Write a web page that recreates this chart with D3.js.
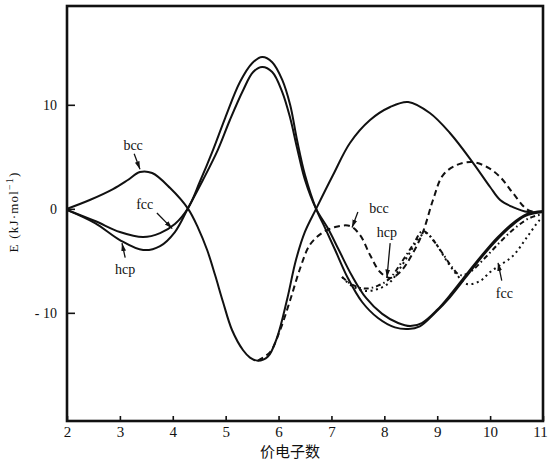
<!DOCTYPE html>
<html>
<head>
<meta charset="utf-8">
<style>
  body { margin: 0; background: #fff; }
  svg text { font-family: "Liberation Serif", "DejaVu Serif", serif; fill: #111; }
  .curve { fill: none; stroke: #111; stroke-width: 2; stroke-linejoin: round; }
  .axis path { display: none; }
  .axis line { stroke: #111; stroke-width: 1.6; }
</style>
</head>
<body>
<svg id="chart" width="548" height="463"></svg>
<script src="https://d3js.org/d3.v7.min.js"></script>
<script>
// tick values
var xTicks = [2, 3, 4, 5, 6, 7, 8, 9, 10, 11];
var yTicks = [10, 0, -10];
var yTickLabels = ['10', '0', '- 10'];

// solid curves  [valence electrons, E]
var bccSolid = [[2,0],[2.43,0.85],[2.87,1.9],[3.15,2.77],[3.38,3.54],[3.61,3.44],[3.95,2.0],[4.29,0],
  [4.48,-1.85],[4.65,-3.96],[4.8,-6.37],[4.95,-8.96],[5.12,-11.65],[5.33,-13.6],[5.46,-14.3],[5.61,-14.6],
  [5.8,-14.2],[5.97,-12.4],[6.16,-8.75],[6.33,-4.9],[6.5,-2.2],[6.71,0],[7.03,3.25],[7.35,6.33],
  [7.73,8.54],[8.11,9.79],[8.45,10.27],[8.86,9.21],[9.24,7.29],[9.68,4.4],[10.0,2.1],[10.19,0.85],
  [10.43,0.17],[10.72,-0.31],[11,-0.31]];
var fccSolid = [[2,-0.1],[2.53,-1.17],[3.0,-2.23],[3.44,-2.71],[3.76,-2.33],[4.04,-1.46],[4.29,0.08],
  [4.51,2.58],[4.76,5.65],[4.99,8.73],[5.27,12.19],[5.5,14.0],[5.69,14.6],[5.88,14.1],[6.07,12.4],
  [6.22,9.98],[6.35,6.6],[6.5,3.25],[6.71,0],[6.88,-1.85],[7.07,-3.96],[7.31,-6.65],[7.58,-8.96],
  [7.88,-10.5],[8.2,-11.4],[8.45,-11.56],[8.67,-11.3],[8.96,-10.0],[9.24,-8.5],[9.53,-6.65],
  [9.81,-4.83],[10.09,-3.19],[10.38,-1.75],[10.66,-0.69],[11,-0.31]];
var hcpSolid = [[2,-0.1],[2.53,-1.37],[3.0,-3.0],[3.44,-3.96],[3.76,-3.58],[4.04,-2.23],[4.29,0.08],
  [4.57,2.77],[4.85,5.65],[5.08,8.54],[5.33,11.4],[5.52,13.15],[5.69,13.63],[5.88,13.15],[6.07,11.23],
  [6.22,8.73],[6.35,5.85],[6.5,2.77],[6.71,0],[6.93,-1.85],[7.14,-3.96],[7.39,-6.46],[7.65,-8.54],
  [7.96,-10.1],[8.26,-10.98],[8.49,-11.27],[8.71,-10.98],[9.0,-9.71],[9.28,-8.06],[9.56,-6.25],
  [9.85,-4.44],[10.13,-2.81],[10.41,-1.46],[10.7,-0.5],[11,-0.21]];

// second set (dashed / dash-dot / dotted)
var bccDashed = [[5.61,-14.6],[5.84,-13.77],[6.03,-11.65],[6.22,-8.77],[6.41,-5.69],[6.59,-3.48],
  [6.82,-2.33],[7.07,-1.75],[7.35,-1.65],[7.54,-2.52],[7.73,-4.44],[7.92,-6.08],[8.11,-6.65],
  [8.3,-6.08],[8.52,-4.44],[8.73,-2.23],[8.92,0.85],[9.11,3.25],[9.37,4.21],[9.66,4.5],[9.94,4.02],
  [10.19,3.06],[10.43,1.52],[10.72,-0.12],[11,-0.31]];
var hcpDashed = [[7.2,-6.56],[7.39,-7.29],[7.63,-7.67],[7.88,-7.39],[8.11,-6.65],[8.33,-5.1],
  [8.54,-3.48],[8.73,-2.12],[8.92,-3.0],[9.11,-4.35],[9.28,-5.6],[9.43,-6.37],[9.62,-6.08],
  [9.9,-4.73],[10.19,-3.19],[10.47,-1.85],[10.75,-0.88],[11,-0.5]];
var fccDotted = [[7.2,-6.56],[7.39,-7.42],[7.63,-7.9],[7.88,-7.71],[8.11,-7.04],[8.3,-5.69],
  [8.49,-4.15],[8.67,-2.71],[8.79,-2.33],[8.98,-3.39],[9.17,-4.94],[9.36,-6.27],[9.56,-7.23],
  [9.81,-6.94],[10.0,-6.08],[10.19,-5.4],[10.43,-4.54],[10.7,-2.71],[10.94,-1.06],[11,-0.88]];

// curve labels: text at (tx,ty), arrow from a[0] to a[1]
var labels = [
  {t: 'bcc', tx: 3.25, ty: 6.1, a: [[3.27, 5.3], [3.38, 3.8]]},
  {t: 'fcc', tx: 3.47, ty: 0.5, a: [[3.7, -0.4], [3.99, -1.9]]},
  {t: 'hcp', tx: 3.1, ty: -5.8, a: [[3.1, -4.7], [3.04, -3.3]]},
  {t: 'bcc', tx: 7.9, ty: 0.1, a: [[7.5, -0.3], [7.39, -1.8]]},
  {t: 'hcp', tx: 8.05, ty: -2.2, a: [[8.11, -3.3], [8.05, -6.6]]},
  {t: 'fcc', tx: 10.27, ty: -8.1, a: [[10.22, -6.9], [10.15, -5.2]]}
];

var svg = d3.select('#chart');
var x = d3.scaleLinear().domain([2, 11]).range([67, 543]);
var y = d3.scaleLinear().domain([-20.4, 19.5]).range([421, 6]);

svg.append('defs').append('clipPath').attr('id', 'plot')
  .append('rect')
  .attr('x', x(2)).attr('y', y(19.5))
  .attr('width', x(11) - x(2)).attr('height', y(-20.4) - y(19.5));

svg.select('defs').append('marker')
  .attr('id', 'arrow')
  .attr('viewBox', '0 0 10 10')
  .attr('refX', 10).attr('refY', 5)
  .attr('markerWidth', 8).attr('markerHeight', 8)
  .attr('markerUnits', 'userSpaceOnUse')
  .attr('orient', 'auto')
  .append('path').attr('d', 'M0,2L10,5L0,8Z').attr('fill', '#111');

var line = d3.line()
  .x(d => x(d[0]))
  .y(d => y(d[1]))
  .curve(d3.curveCatmullRom.alpha(0.5));

var curves = [
  {data: bccSolid, dash: null},
  {data: fccSolid, dash: null},
  {data: hcpSolid, dash: null},
  {data: bccDashed, dash: '6,4'},
  {data: hcpDashed, dash: '5,3,1.5,3'},
  {data: fccDotted, dash: '2,3.5'}
];

svg.append('g').attr('clip-path', 'url(#plot)')
  .selectAll('path')
  .data(curves)
  .join('path')
  .attr('class', 'curve')
  .attr('d', d => line(d.data))
  .attr('stroke-dasharray', d => d.dash);

// axes (ticks point inward)
svg.append('g').attr('class', 'axis')
  .attr('transform', 'translate(0,' + y(-20.4) + ')')
  .call(d3.axisBottom(x).tickValues(xTicks).tickSizeInner(-5).tickSizeOuter(0).tickPadding(5))
  .selectAll('text').attr('font-size', 15)
  .attr('dx', d => d === 11 ? -3 : 0);

svg.append('g').attr('class', 'axis')
  .attr('transform', 'translate(' + x(2) + ',0)')
  .call(d3.axisLeft(y).tickValues(yTicks).tickFormat((d, i) => yTickLabels[i])
    .tickSizeInner(-8).tickSizeOuter(0).tickPadding(10))
  .selectAll('text').attr('font-size', 14);

svg.append('rect')
  .attr('x', x(2)).attr('y', y(19.5))
  .attr('width', x(11) - x(2)).attr('height', y(-20.4) - y(19.5))
  .attr('fill', 'none').attr('stroke', '#111').attr('stroke-width', 2.6);

// curve labels
var lg = svg.append('g');
lg.selectAll('text')
  .data(labels)
  .join('text')
  .attr('x', d => x(d.tx)).attr('y', d => y(d.ty))
  .attr('text-anchor', 'middle').attr('dy', '0.35em')
  .attr('font-size', 14)
  .text(d => d.t);
lg.selectAll('line')
  .data(labels)
  .join('line')
  .attr('x1', d => x(d.a[0][0])).attr('y1', d => y(d.a[0][1]))
  .attr('x2', d => x(d.a[1][0])).attr('y2', d => y(d.a[1][1]))
  .attr('stroke', '#111').attr('stroke-width', 1.3)
  .attr('marker-end', 'url(#arrow)');

// axis titles
svg.append('text')
  .attr('x', 290).attr('y', 457)
  .attr('text-anchor', 'middle')
  .attr('font-size', 15)
  .style('font-family', '"Noto Sans CJK SC", sans-serif')
  .text('价电子数');

var yt = svg.append('text')
  .attr('transform', 'translate(18,' + y(-0.3) + ') rotate(-90)')
  .attr('text-anchor', 'middle')
  .attr('font-size', 13)
  .attr('letter-spacing', 1.2);
yt.append('tspan').text('E (kJ·mol');
yt.append('tspan').attr('dy', -5).attr('font-size', 10).text('−1');
yt.append('tspan').attr('dy', 5).text(')');
</script>
</body>
</html>
